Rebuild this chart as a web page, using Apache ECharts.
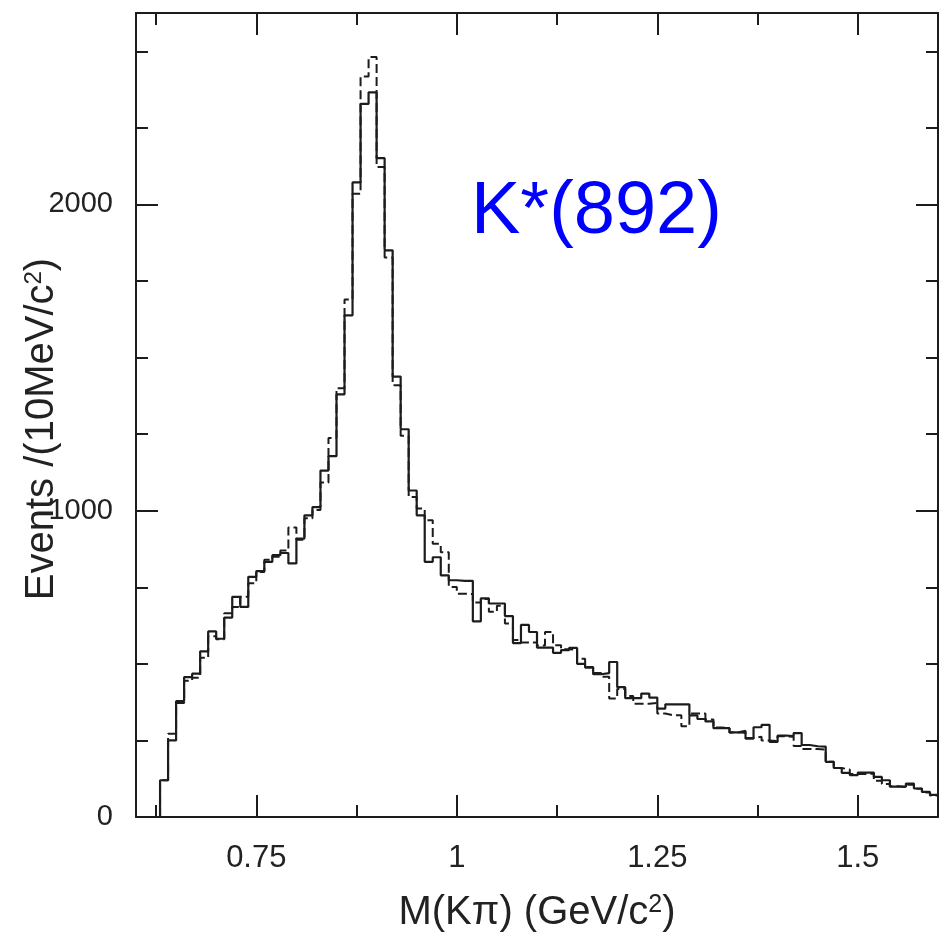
<!DOCTYPE html>
<html>
<head>
<meta charset="utf-8">
<script src="https://cdn.jsdelivr.net/npm/echarts@6/dist/echarts.min.js"></script>
<style>
html,body{margin:0;padding:0;background:#fff;}
#chart{width:942px;height:943px;}
</style>
</head>
<body>
<div id="chart"></div>
<script>
// Lower edges of the 10 MeV bins (GeV/c^2)
var binEdges = [0.63,0.64,0.65,0.66,0.67,0.68,0.69,0.70,0.71,0.72,0.73,0.74,0.75,0.76,0.77,0.78,0.79,
  0.80,0.81,0.82,0.83,0.84,0.85,0.86,0.87,0.88,0.89,0.90,0.91,0.92,0.93,0.94,0.95,0.96,0.97,0.98,0.99,
  1.00,1.01,1.02,1.03,1.04,1.05,1.06,1.07,1.08,1.09,1.10,1.11,1.12,1.13,1.14,1.15,1.16,1.17,1.18,1.19,
  1.20,1.21,1.22,1.23,1.24,1.25,1.26,1.27,1.28,1.29,1.30,1.31,1.32,1.33,1.34,1.35,1.36,1.37,1.38,1.39,
  1.40,1.41,1.42,1.43,1.44,1.45,1.46,1.47,1.48,1.49,1.50,1.51,1.52,1.53,1.54,1.55,1.56,1.57,1.58,1.59];
var lastEdge = 1.60;

// Data (solid histogram)
var dataCounts = [120,250,378,457,468,541,606,582,651,719,686,784,803,833,855,862,828,
  909,985,1012,1131,1178,1380,1638,2072,2328,2366,2151,1850,1438,1266,1066,985,833,848,789,773,
  771,771,639,714,697,697,656,568,627,604,553,553,536,545,552,500,488,466,470,506,
  424,388,388,403,390,354,368,368,368,332,320,312,290,290,276,281,256,293,301,245,
  266,264,274,235,231,230,180,160,144,137,145,145,131,120,99,99,109,93,82,72];

// Simulation (dashed histogram)
var mcCounts = [120,272,372,445,455,520,590,580,665,686,719,763,800,840,850,870,945,
  905,975,1002,1092,1237,1400,1690,2035,2418,2481,2122,1827,1410,1245,1045,1007,969,892,864,751,
  729,728,700,712,670,690,632,578,570,570,560,604,561,548,545,517,490,470,458,387,
  418,395,370,370,372,338,332,332,296,338,338,318,292,290,276,275,258,262,250,248,
  264,262,232,222,222,220,180,160,155,140,140,142,118,108,100,98,105,92,80,70];

var xMajorTicks = [0.75, 1, 1.25, 1.5];
var xMinorTicks = [0.625, 0.875, 1.125, 1.375];
var yMajorTicks = [0, 1000, 2000];
var yMinorTicks = [250, 500, 750, 1250, 1500, 1750, 2250, 2500];

function stepData(counts) {
  var pts = [[binEdges[0], 0]];
  for (var i = 0; i < binEdges.length; i++) pts.push([binEdges[i], counts[i]]);
  pts.push([lastEdge, counts[counts.length - 1]]);
  return pts;
}

var ink = '#1c1c1c';
var txt = '#222222';
var font = '"Liberation Sans", Arial, Helvetica, sans-serif';

function xAx(pos, ticks, len, showLine, showLabel, name) {
  var a = {
    type: 'value', position: pos, min: 0.6, max: 1.6, gridIndex: 0,
    splitLine: {show: false},
    axisLine: {show: showLine, onZero: false, lineStyle: {color: ink, width: 2}},
    axisTick: {show: true, inside: true, length: len, customValues: ticks, lineStyle: {color: ink, width: 2}},
    axisLabel: showLabel ? {show: true, customValues: ticks, margin: 26, color: txt, fontFamily: font, fontSize: 31,
      formatter: function (v) { return String(v); }} : {show: false}
  };
  if (name) {
    a.name = name;
    a.nameLocation = 'middle';
    a.nameGap = 76;
    a.nameMoveOverlap = false;
    a.nameTextStyle = {color: txt, fontFamily: font, fontSize: 40,
      rich: {sup: {fontSize: 25, color: txt, fontFamily: font, verticalAlign: 'top'}}};
  }
  return a;
}
function yAx(pos, ticks, len, showLine, showLabel, name) {
  var a = {
    type: 'value', position: pos, min: 0, max: 2625, gridIndex: 0,
    splitLine: {show: false},
    axisLine: {show: showLine, onZero: false, lineStyle: {color: ink, width: 2}},
    axisTick: {show: true, inside: true, length: len, customValues: ticks, lineStyle: {color: ink, width: 2}},
    axisLabel: showLabel ? {show: true, customValues: ticks, margin: 23, color: txt, fontFamily: font, fontSize: 29,
      formatter: function (v) { return String(v); }} : {show: false}
  };
  if (name) {
    a.name = name;
    a.nameLocation = 'middle';
    a.nameGap = 74;
    a.nameRotate = 90;
    a.nameMoveOverlap = false;
    a.nameTextStyle = {color: txt, fontFamily: font, fontSize: 40, padding: [0, 28, 0, 0],
      rich: {sup: {fontSize: 24, color: txt, fontFamily: font, verticalAlign: 'top'}}};
  }
  return a;
}

var chart = echarts.init(document.getElementById('chart'), null, {renderer: 'canvas'});
chart.setOption({
  animation: false,
  backgroundColor: '#ffffff',
  grid: {left: 136, right: 4, top: 13, bottom: 126, containLabel: false, outerBoundsMode: 'none'},
  xAxis: [
    xAx('bottom', xMajorTicks, 22, true, true, 'M(K\u03c0) (GeV/c{sup|2})'),
    xAx('bottom', xMinorTicks, 12, false, false),
    xAx('top', xMajorTicks, 22, true, false),
    xAx('top', xMinorTicks, 12, false, false)
  ],
  yAxis: [
    yAx('left', yMajorTicks, 22, true, true, 'Events /(10MeV/c{sup|2})'),
    yAx('left', yMinorTicks, 12, false, false),
    yAx('right', yMajorTicks, 22, true, false),
    yAx('right', yMinorTicks, 12, false, false)
  ],
  series: [
    {
      name: 'MC', type: 'line', xAxisIndex: 0, yAxisIndex: 0, step: 'end', symbol: 'none',
      data: stepData(mcCounts),
      lineStyle: {color: ink, width: 2, type: [9, 4]}
    },
    {
      name: 'Data', type: 'line', xAxisIndex: 0, yAxisIndex: 0, step: 'end', symbol: 'none',
      data: stepData(dataCounts),
      lineStyle: {color: ink, width: 2.2, type: 'solid'}
    }
  ],
  graphic: [
    {type: 'text', left: 471, top: 176, style: {text: 'K*(892)', fill: '#0000ff', fontFamily: font, fontSize: 74}}
  ]
});
</script>
</body>
</html>
